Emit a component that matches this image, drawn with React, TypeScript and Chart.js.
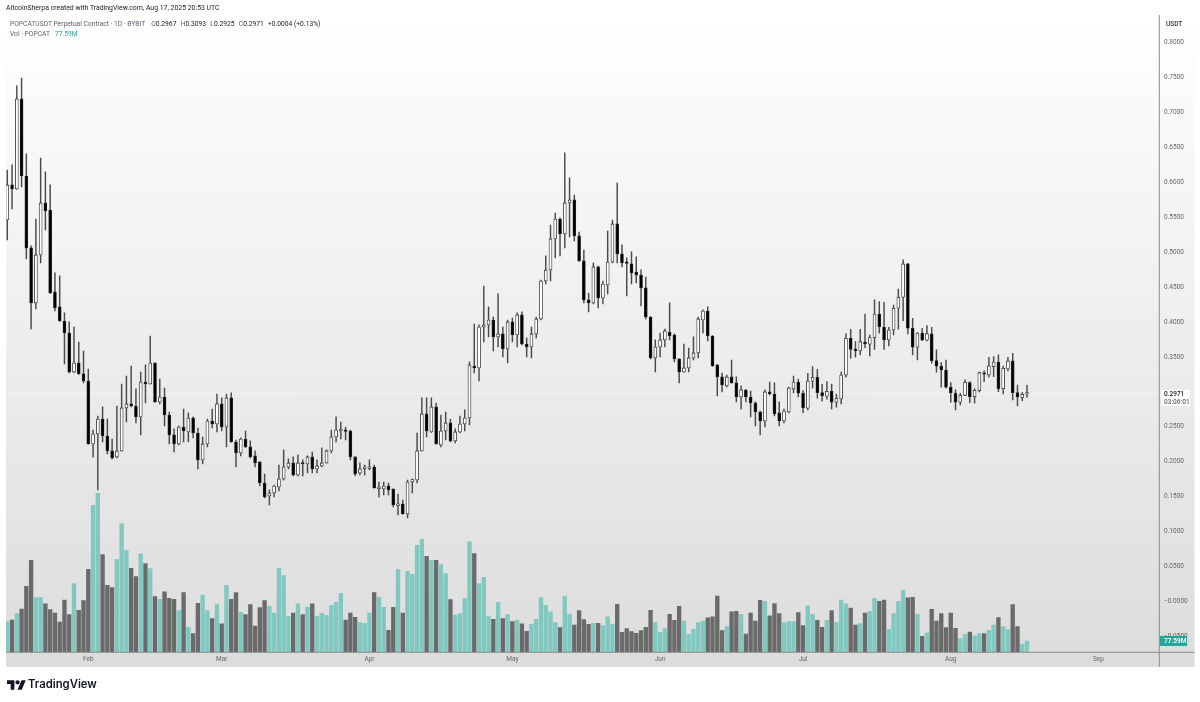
import React, { useEffect, useRef } from 'react';
import { Chart, registerables } from 'chart.js';

Chart.register(...registerables);

// daily candles, Jan 15 to Aug 17 2025 (index 0 = Jan 15)
const opens = [
  .5463, .5965, .5907, .7197, .6093, .5062, .4274, .4962, .5707, .5606,
  .4432, .4217, .4016, .3844, .3285, .3414, .3257, .3156, .2254, .2397,
  .2612, .2368, .2154, .2068, .2154, .2770, .2827, .2798, .2641, .3142,
  .3113, .3414, .2856, .2927, .2669, .2383, .2254, .2497, .2426, .2626,
  .2411, .2025, .2254, .2583, .2540, .2827, .2497, .2913, .2282, .2125,
  .2325, .2211, .2082, .1996, .1695, .1509, .1552, .1638, .1752, .1924,
  .1982, .1810, .1982, .1967, .2068, .1896, .1939, .1982, .2154, .2354,
  .2440, .2454, .2440, .2068, .1838, .1904, .1904, .1924, .1615, .1609,
  .1652, .1609, .1373, .1394, .1251, .1709, .1738, .2154, .2684, .2426,
  .2784, .2239, .2440, .2555, .2297, .2426, .2540, .2626, .3371, .3343,
  .3930, .3959, .4030, .3787, .3830, .3615, .4002, .3815, .4102, .3686,
  .3643, .3830, .4045, .4589, .4747, .5191, .5477, .5262, .5707, .5750,
  .5234, .4876, .4317, .4274, .4790, .4346, .4532, .4861, .5406, .4976,
  .4847, .4833, .4718, .4675, .4489, .4073, .3486, .3643, .3744, .3858,
  .3815, .3472, .3285, .3343, .3486, .3558, .4030, .4159, .3801, .3386,
  .3214, .3085, .3214, .3128, .2927, .3028, .2927, .2841, .2712, .2583,
  .2999, .2970, .2698, .2583, .2712, .3042, .3142, .2980, .2765, .3152,
  .3209, .2989, .2937, .3009, .2851, .2899, .3242, .3768, .3610, .3586,
  .3715, .3682, .3777, .4116, .3926, .3744, .3887, .4198, .4356, .4833,
  .3911, .3639, .3840, .3740, .3830, .3447, .3367, .3314, .3066, .2980,
  .2851, .2951, .3132, .2931, .3017, .3267, .3242, .3362, .3428, .3046,
  .3328, .3443, .2989, .2920, .2967,
];
const highs = [
  .6179, .6251, .7383, .7497, .6409, .5091, .5477, .6351, .6151, .5965,
  .4704, .4661, .4131, .4002, .3930, .3715, .3586, .3328, .2454, .2655,
  .2784, .2612, .2325, .2798, .3113, .3228, .3371, .3042, .3285, .3386,
  .3801, .3420, .3185, .3056, .2712, .2469, .2512, .2755, .2698, .2641,
  .2483, .2354, .2612, .2755, .2970, .2913, .2970, .2985, .2311, .2340,
  .2440, .2297, .2154, .1996, .1824, .1595, .1666, .1953, .2168, .2039,
  .2068, .2096, .2025, .2082, .2139, .2025, .2197, .2168, .2454, .2641,
  .2569, .2497, .2454, .2070, .1982, .1953, .2025, .1953, .1709, .1709,
  .1695, .1612, .1537, .1451, .1738, .1752, .2411, .2913, .2913, .2913,
  .2841, .2669, .2712, .2612, .2469, .2655, .2741, .3429, .3973, .3959,
  .4517, .4217, .4073, .4403, .3930, .4030, .4059, .4131, .4145, .3773,
  .3930, .4073, .4603, .4948, .5391, .5563, .5492, .6423, .6065, .5821,
  .5291, .5033, .4417, .4847, .4804, .4589, .5305, .5463, .5993, .5105,
  .4919, .5005, .4933, .4747, .4646, .4080, .3744, .3844, .3901, .4274,
  .3830, .3475, .3686, .3629, .3787, .4073, .4174, .4217, .3805, .3390,
  .3271, .3242, .3457, .3214, .3085, .3030, .3013, .2856, .2726, .3028,
  .3142, .3128, .2856, .2755, .3070, .3228, .3185, .3017, .3267, .3362,
  .3324, .3109, .3146, .3113, .2970, .3285, .3830, .3897, .3719, .3897,
  .4116, .3815, .4317, .4293, .4284, .3926, .4245, .4474, .4890, .4840,
  .4055, .3848, .3911, .3949, .3926, .3601, .3419, .3457, .3132, .3028,
  .2980, .3171, .3146, .3042, .3285, .3300, .3496, .3505, .3529, .3371,
  .3496, .3553, .3099, .2989, .3093,
];
const lows = [
  .5176, .5621, .5900, .5936, .4904, .3901, .4188, .4847, .5320, .4410,
  .4159, .4010, .3400, .3271, .3271, .3250, .3128, .2250, .2068, .1595,
  .2282, .2111, .2039, .2053, .2150, .2569, .2784, .2555, .2383, .2841,
  .3110, .2850, .2827, .2512, .2254, .2139, .2239, .2282, .2282, .2340,
  .1896, .1967, .2211, .2483, .2426, .2440, .2211, .2280, .1924, .2082,
  .2205, .2053, .1924, .1652, .1480, .1380, .1495, .1580, .1738, .1896,
  .1795, .1795, .1795, .1838, .1838, .1838, .1924, .1978, .2125, .2282,
  .2325, .2311, .2025, .1795, .1810, .1810, .1881, .1620, .1495, .1523,
  .1523, .1351, .1237, .1247, .1194, .1552, .1695, .2150, .2354, .2420,
  .2250, .2211, .2311, .2282, .2268, .2411, .2440, .2526, .3271, .3156,
  .3715, .3787, .3586, .3643, .3500, .3414, .3715, .3643, .3672, .3500,
  .3486, .3773, .4030, .4546, .4589, .4919, .4947, .5062, .5220, .5162,
  .4870, .4274, .4145, .4260, .4202, .4260, .4403, .4847, .4847, .4790,
  .4374, .4546, .4561, .4231, .4045, .3472, .3285, .3500, .3643, .3744,
  .3429, .3128, .3280, .3285, .3457, .3486, .3844, .3730, .3365, .2942,
  .2999, .3070, .3125, .2856, .2755, .2856, .2641, .2512, .2383, .2497,
  .2956, .2655, .2512, .2555, .2698, .2985, .2927, .2702, .2741, .3052,
  .2909, .2870, .2894, .2755, .2780, .2827, .3209, .3482, .3496, .3529,
  .3633, .3515, .3610, .3840, .3610, .3658, .3815, .3897, .4021, .3830,
  .3529, .3457, .3734, .3730, .3410, .3281, .3066, .3052, .2851, .2741,
  .2813, .2946, .2846, .2837, .2999, .3146, .3209, .3218, .3003, .2970,
  .3300, .2884, .2798, .2874, .2925,
];
const closes = [
  .5965, .5907, .7197, .6093, .5062, .4274, .4962, .5707, .5592, .4417,
  .4202, .4016, .3844, .3285, .3414, .3257, .3156, .2254, .2397, .2612,
  .2368, .2154, .2053, .2154, .2770, .2827, .2798, .2641, .3142, .3113,
  .3414, .2856, .2927, .2669, .2383, .2254, .2497, .2440, .2626, .2411,
  .2025, .2254, .2583, .2540, .2827, .2497, .2913, .2282, .2125, .2325,
  .2211, .2068, .1982, .1695, .1495, .1552, .1652, .1752, .1924, .1982,
  .1810, .1982, .1967, .2068, .1896, .1939, .1982, .2154, .2354, .2454,
  .2454, .2433, .2068, .1824, .1896, .1910, .1910, .1623, .1623, .1652,
  .1595, .1380, .1380, .1251, .1709, .1745, .2154, .2684, .2440, .2784,
  .2254, .2440, .2555, .2297, .2426, .2540, .2626, .3386, .3343, .3930,
  .3959, .4030, .3787, .3830, .3615, .4002, .3815, .4102, .3686, .3643,
  .3830, .4045, .4589, .4747, .5191, .5477, .5262, .5707, .5750, .5234,
  .4876, .4317, .4274, .4790, .4346, .4546, .4861, .5406, .4976, .4847,
  .4840, .4704, .4675, .4489, .4073, .3486, .3643, .3744, .3873, .3801,
  .3472, .3285, .3343, .3486, .3558, .4045, .4159, .3801, .3371, .3214,
  .3099, .3214, .3128, .2927, .3028, .2927, .2841, .2712, .2583, .2999,
  .2970, .2684, .2583, .2726, .3056, .3142, .2980, .2774, .3156, .3209,
  .2989, .2946, .3009, .2851, .2909, .3242, .3768, .3610, .3590, .3719,
  .3686, .3777, .4116, .3934, .3744, .3887, .4198, .4356, .4833, .3911,
  .3639, .3844, .3744, .3834, .3447, .3367, .3314, .3066, .2989, .2851,
  .2951, .3138, .2931, .3023, .3275, .3252, .3371, .3428, .3046, .3338,
  .3443, .2989, .2927, .2967, .2971,
];
// volume in millions of POPCAT
const volumes = [
  210, 221, 264, 296, 451, 629, 374, 374, 331, 292,
  269, 207, 358, 258, 470, 287, 353, 568, 1005, 1088,
  668, 458, 442, 634, 878, 695, 575, 518, 673, 606,
  572, 381, 363, 413, 369, 363, 285, 408, 171, 128,
  335, 392, 285, 230, 326, 194, 458, 363, 408, 274,
  258, 326, 180, 306, 353, 315, 269, 575, 524, 246,
  269, 331, 258, 310, 331, 246, 267, 253, 321, 342,
  404, 221, 269, 239, 203, 198, 269, 408, 376, 308,
  150, 308, 565, 269, 554, 534, 732, 773, 657, 629,
  629, 600, 538, 360, 255, 264, 367, 755, 675, 470,
  513, 244, 226, 342, 230, 258, 210, 219, 194, 144,
  192, 226, 374, 321, 276, 203, 169, 381, 260, 187,
  285, 223, 192, 198, 198, 182, 242, 192, 328, 137,
  162, 141, 130, 148, 171, 287, 203, 137, 162, 260,
  219, 315, 214, 123, 157, 203, 214, 235, 242, 385,
  148, 176, 276, 280, 258, 125, 269, 214, 356, 349,
  249, 333, 264, 203, 210, 210, 271, 182, 317, 260,
  219, 171, 219, 285, 203, 358, 331, 303, 187, 196,
  269, 280, 369, 349, 358, 157, 264, 349, 424, 372,
  376, 260, 109, 132, 294, 214, 264, 169, 269, 164,
  93, 123, 139, 112, 128, 128, 150, 187, 237, 176,
  155, 326, 176, 57, 77.59,
];

// first day of each month as candle index
const monthTicks = [17, 45, 76, 106, 137, 167, 198, 229];
const monthLabels = ['Feb', 'Mar', 'Apr', 'May', 'Jun', 'Jul', 'Aug', 'Sep'];
const priceTicks = [0.8, 0.75, 0.7, 0.65, 0.6, 0.55, 0.5, 0.45, 0.4, 0.35, 0.25, 0.2, 0.15, 0.1, 0.05, 0, -0.05];
const priceLabels = ['0.8000', '0.7500', '0.7000', '0.6500', '0.6000', '0.5500', '0.5000', '0.4500', '0.4000', '0.3500', '0.2500', '0.2000', '0.1500', '0.1000', '0.0500', '\u22120.0000', '\u22120.0500'];

const lastPrice = 0.2971;
const lastVolume = 77.59;

const TEAL = '#80c8c0';
const GREY = '#6a6a6a';
const FONT = "Roboto, 'Open Sans', sans-serif";

const overlays = {
  id: 'overlays',
  beforeDraw(chart: any) {
    const { ctx } = chart;
    const grad = ctx.createLinearGradient(0, 15, 0, 667);
    grad.addColorStop(0, '#ffffff');
    grad.addColorStop(1, '#dcdcdc');
    ctx.save();
    ctx.fillStyle = grad;
    ctx.fillRect(6, 15, 1188.5, 652);
    ctx.restore();
  },
  beforeDatasetsDraw(chart: any) {
    const { ctx, chartArea, scales } = chart;
    const y = scales.y.getPixelForValue(lastPrice);
    ctx.save();
    ctx.strokeStyle = 'rgba(255,255,255,0.45)';
    ctx.lineWidth = 1;
    ctx.beginPath();
    ctx.moveTo(chartArea.left, y);
    ctx.lineTo(chartArea.right, y);
    ctx.stroke();
    ctx.restore();
  },
  afterDraw(chart: any) {
    const { ctx, chartArea, scales } = chart;
    const right = chartArea.right;
    ctx.save();
    // pane separators
    ctx.strokeStyle = '#8c8c8c';
    ctx.lineWidth = 1;
    ctx.beginPath();
    ctx.moveTo(right + 0.3, 15);
    ctx.lineTo(right + 0.3, 667);
    ctx.moveTo(6, chartArea.bottom);
    ctx.lineTo(1194.5, chartArea.bottom);
    ctx.stroke();

    ctx.textBaseline = 'middle';
    ctx.textAlign = 'left';
    ctx.fillStyle = '#333333';
    ctx.font = `500 6.5px ${FONT}`;
    ctx.fillText('USDT', 1166, 24);

    // last price tag
    const py = scales.y.getPixelForValue(lastPrice);
    ctx.fillStyle = '#ffffff';
    ctx.fillRect(1161, py - 4, 29, 16);
    ctx.fillStyle = '#222222';
    ctx.font = `500 6.5px ${FONT}`;
    ctx.fillText(lastPrice.toFixed(4), 1164, py + 0.5);
    ctx.fillStyle = '#666666';
    ctx.fillText('03:06:01', 1164, py + 8);

    // last volume tag
    const vy = scales.vol.getPixelForValue(lastVolume);
    ctx.fillStyle = '#26a69a';
    ctx.fillRect(1160, vy - 5, 27, 10);
    ctx.fillStyle = '#ffffff';
    ctx.font = `600 6.5px ${FONT}`;
    ctx.fillText(lastVolume + 'M', 1164, vy + 0.5);
    ctx.restore();
  },
};

const App: React.FC = () => {
  const canvasRef = useRef<HTMLCanvasElement>(null);

  useEffect(() => {
    if (!canvasRef.current) return;
    const up = closes.map((c, i) => c >= opens[i]);
    const chart = new Chart(canvasRef.current, {
      type: 'bar',
      data: {
        datasets: [
          {
            label: 'Body',
            order: 1,
            yAxisID: 'y',
            grouped: false,
            barThickness: 3,
            minBarLength: 1.5,
            borderWidth: 0.8,
            borderSkipped: false,
            borderColor: '#2a2a2a',
            backgroundColor: up.map((u) => (u ? '#ffffff' : '#000000')),
            data: opens.map((o, i) => ({ x: i, y: [o, closes[i]] })),
          },
          {
            label: 'Wick',
            order: 2,
            yAxisID: 'y',
            grouped: false,
            barThickness: 0.8,
            backgroundColor: '#4a4a4a',
            data: highs.map((h, i) => ({ x: i, y: [lows[i], h] })),
          },
          {
            label: 'Vol',
            order: 3,
            yAxisID: 'vol',
            grouped: false,
            barThickness: 3.7,
            backgroundColor: up.map((u) => (u ? TEAL : GREY)),
            data: volumes.map((v, i) => ({ x: i, y: v })),
          },
        ] as any,
      },
      options: {
        responsive: false,
        animation: false,
        layout: { padding: { left: 6, top: 16, right: 0, bottom: 35 } },
        plugins: { legend: { display: false }, tooltip: { enabled: false } },
        scales: {
          x: {
            type: 'linear',
            offset: false,
            min: -0.27,
            max: 241.7,
            grid: { display: false, drawTicks: false },
            border: { display: false },
            afterBuildTicks: (scale: any) => {
              scale.ticks = monthTicks.map((value) => ({ value }));
            },
            afterFit: (scale: any) => {
              scale.height = 14.7;
            },
            ticks: {
              autoSkip: false,
              maxRotation: 0,
              padding: 3.5,
              color: '#666666',
              font: { family: FONT, size: 6.5 },
              callback: (v: any) => monthLabels[monthTicks.indexOf(v)],
            },
          },
          y: {
            position: 'right',
            min: -0.0731,
            max: 0.8385,
            grid: { display: false, drawTicks: false },
            border: { display: false },
            afterBuildTicks: (scale: any) => {
              scale.ticks = priceTicks.map((value) => ({ value }));
            },
            afterFit: (scale: any) => {
              scale.width = 41;
            },
            ticks: {
              padding: 5,
              color: '#666666',
              font: { family: FONT, size: 6.5 },
              callback: (v: any) => priceLabels[priceTicks.indexOf(v)],
            },
          },
          vol: {
            display: false,
            position: 'left',
            min: 0,
            max: 4352,
          },
        },
      } as any,
      plugins: [overlays],
    });
    return () => chart.destroy();
  }, []);

  const line: React.CSSProperties = {
    position: 'absolute',
    whiteSpace: 'nowrap',
    fontFamily: FONT,
    fontSize: 6.7,
    lineHeight: '8px',
    color: '#60636e',
  };
  const dark: React.CSSProperties = { color: '#222222' };

  return (
    <div style={{ position: 'absolute', left: 0, top: 0, width: 1200, height: 702, background: '#ffffff', overflow: 'hidden', filter: 'blur(0.3px)' }}>
      <canvas ref={canvasRef} width={1200} height={702} style={{ position: 'absolute', left: 0, top: 0, width: 1200, height: 702 }} />
      <div style={{ ...line, left: 6, top: 4, fontSize: 6.9, color: '#222222' }}>
        AltcoinSherpa created with TradingView.com, Aug 17, 2025 20:53 UTC
      </div>
      <div style={{ ...line, left: 10, top: 19.5 }}>
        POPCATUSDT Perpetual Contract · 1D · BYBIT
        <span style={{ marginLeft: 6 }}>O</span><span style={dark}>0.2967</span>
        <span style={{ marginLeft: 4.3 }}>H</span><span style={dark}>0.3093</span>
        <span style={{ marginLeft: 4.3 }}>L</span><span style={dark}>0.2925</span>
        <span style={{ marginLeft: 4.3 }}>C</span><span style={dark}>0.2971</span>
        <span style={{ ...dark, marginLeft: 4.3 }}>+0.0004 (+0.13%)</span>
      </div>
      <div style={{ ...line, left: 10, top: 29.5 }}>
        Vol · POPCAT<span style={{ marginLeft: 5, color: '#26a69a' }}>77.59M</span>
      </div>
      <svg viewBox="0 0 36 28" style={{ position: 'absolute', left: 6.5, top: 678, width: 19, height: 15 }}>
        <path fill="#131722" d="M14 22H7V11H0V4h14v18zM28 22h-8l7.5-18h8L28 22z" />
        <circle fill="#131722" cx="20" cy="8" r="4" />
      </svg>
      <div style={{ position: 'absolute', left: 28, top: 677, whiteSpace: 'nowrap', fontFamily: "Inter, sans-serif", fontWeight: 600, fontSize: 11.3, lineHeight: '15px', color: '#131722' }}>
        TradingView
      </div>
    </div>
  );
};

export default App;
